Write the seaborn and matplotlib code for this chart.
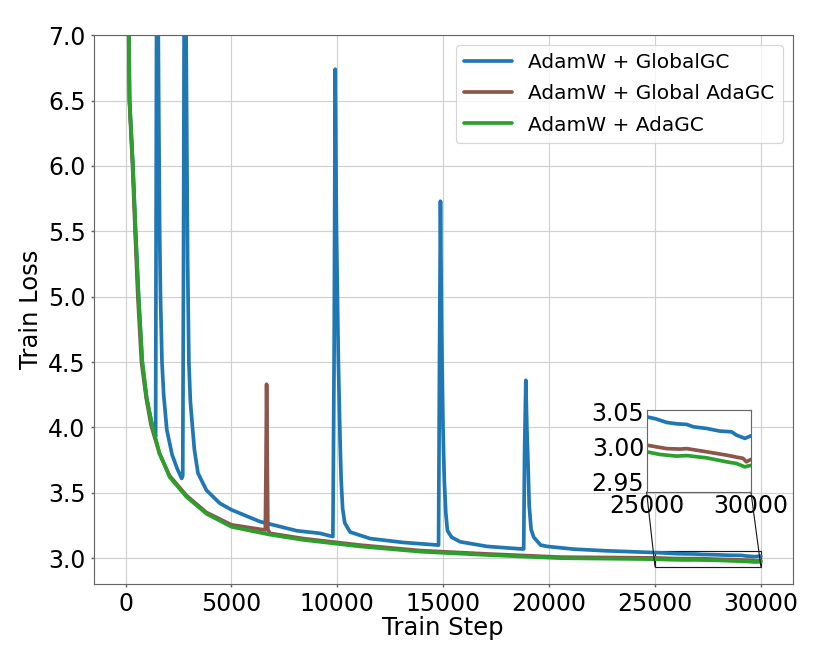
import numpy as np
import pandas as pd
import matplotlib
matplotlib.use("Agg")
import matplotlib.pyplot as plt
import seaborn as sns
from mpl_toolkits.axes_grid1.inset_locator import mark_inset

# %%
# (train step, train loss) points
globalgc = [
    (0, 10.8), (100, 7.6), (158, 7.0), (189, 6.5), (347, 6.0), (473, 5.5),
    (615, 5.0), (789, 4.5), (1000, 4.22), (1250, 4.02), (1420, 3.93),
    (1445, 5.8), (1470, 7.6), (1510, 8.0), (1560, 6.6), (1610, 5.5),
    (1650, 5.0), (1720, 4.5), (1800, 4.25), (1950, 3.98), (2200, 3.79),
    (2450, 3.68), (2650, 3.61), (2700, 3.63), (2735, 5.2), (2770, 7.4),
    (2820, 8.0), (2880, 6.5), (2930, 5.3), (2990, 4.5), (3060, 4.2),
    (3150, 4.02), (3250, 3.83), (3420, 3.65), (3817, 3.52), (4448, 3.42),
    (5000, 3.37), (6340, 3.28), (8076, 3.21), (9180, 3.19), (9790, 3.165),
    (9850, 4.6), (9900, 6.74), (9960, 5.5), (10050, 4.5), (10130, 3.9),
    (10180, 3.6), (10250, 3.38), (10350, 3.27), (10600, 3.20), (11546, 3.15),
    (13123, 3.12), (14780, 3.10), (14820, 4.4), (14870, 5.73), (14920, 4.8),
    (14990, 4.0), (15050, 3.6), (15120, 3.35), (15200, 3.21), (15400, 3.16),
    (15805, 3.125), (17068, 3.09), (18724, 3.07), (18800, 3.07), (18840, 3.8),
    (18900, 4.36), (18950, 4.0), (19010, 3.7), (19060, 3.4), (19150, 3.22),
    (19274, 3.16), (19600, 3.10), (19905, 3.09), (21166, 3.069), (22747, 3.056),
    (25000, 3.0428), (25480, 3.0395), (25960, 3.0347), (26440, 3.0327),
    (26920, 3.0318), (27240, 3.0284), (27880, 3.026), (28510, 3.0222),
    (29070, 3.0212), (29310, 3.0164), (29710, 3.0117), (30000, 3.0154),
]

global_adagc = [
    (0, 10.5), (100, 7.4), (150, 7.0), (180, 6.5), (330, 6.0), (450, 5.5),
    (580, 5.0), (750, 4.5), (980, 4.22), (1200, 4.02), (1600, 3.80),
    (2082, 3.63), (2871, 3.48), (3817, 3.35), (5000, 3.255), (6600, 3.215),
    (6630, 3.7), (6660, 4.33), (6690, 3.8), (6720, 3.22), (6814, 3.19),
    (8391, 3.15), (10000, 3.12), (11073, 3.10), (13912, 3.058), (17000, 3.033),
    (20537, 3.008), (25000, 3.002), (25960, 2.997), (26600, 2.9963),
    (26920, 2.997), (27880, 2.9924), (28830, 2.9876), (29310, 2.9847),
    (29620, 2.983), (29780, 2.978), (30000, 2.9814),
]

adagc = [
    (0, 10.8), (100, 7.6), (158, 7.0), (189, 6.5), (347, 6.0), (473, 5.5),
    (615, 5.0), (789, 4.5), (1000, 4.22), (1250, 4.02), (1609, 3.80),
    (2082, 3.62), (2871, 3.47), (3817, 3.34), (5000, 3.24), (6814, 3.18),
    (8391, 3.14), (10000, 3.11), (11073, 3.09), (13912, 3.05), (17000, 3.025),
    (20537, 3.0), (25000, 2.9924), (25640, 2.9886), (26440, 2.9862),
    (26920, 2.987), (27880, 2.9837), (28830, 2.978), (29310, 2.9756),
    (29710, 2.9707), (30000, 2.973),
]

series_names = ["AdamW + GlobalGC", "AdamW + Global AdaGC", "AdamW + AdaGC"]
series_colors = ["#1f77b4", "#8c564b", "#2ca02c"]

# %%
frames = []
for name, pts in zip(series_names, [globalgc, global_adagc, adagc]):
    d = pd.DataFrame(pts, columns=["step", "loss"])
    d["method"] = name
    frames.append(d)
df = pd.concat(frames, ignore_index=True)

# %%
sns.set_theme(style="whitegrid", rc={
    "axes.edgecolor": "#666666",
    "axes.linewidth": 1.0,
    "grid.color": "#d0d0d0",
    "grid.linewidth": 1.0,
    "xtick.bottom": True,
    "ytick.left": True,
    "xtick.color": "#666666",
    "ytick.color": "#666666",
    "xtick.labelcolor": "black",
    "ytick.labelcolor": "black",
    "xtick.major.size": 3,
    "ytick.major.size": 3,
    "text.color": "black",
    "axes.labelcolor": "black",
})
plt.rcParams["font.family"] = ["DejaVu Sans"]

fig = plt.figure(figsize=(10, 8), dpi=83)
ax = fig.add_axes([0.113, 0.120, 0.842, 0.827])

palette = dict(zip(series_names, series_colors))
sns.lineplot(data=df, x="step", y="loss", hue="method", palette=palette,
             estimator=None, sort=False, linewidth=3.2, ax=ax)

ax.set_xlim(-1500, 31500)
ax.set_ylim(2.8, 7.0)
ax.set_xticks(np.arange(0, 30001, 5000))
ax.set_yticks(np.arange(3.0, 7.01, 0.5))
ax.tick_params(labelsize=20.5, pad=4)
ax.set_xlabel("Train Step", fontsize=21, labelpad=0)
ax.set_ylabel("Train Loss", fontsize=21)

leg = ax.legend(loc="upper right", fontsize=17.5, frameon=True,
                labelspacing=0.6, handlelength=2.4)
for line in leg.get_lines():
    line.set_linewidth(3.2)

# %%
# zoomed view of the last 5000 steps
axins = fig.add_axes([0.779, 0.2595, 0.1257, 0.1235])
sns.lineplot(data=df, x="step", y="loss", hue="method", palette=palette,
             estimator=None, sort=False, linewidth=3.2, ax=axins, legend=False)
axins.set_xlim(25000, 30000)
axins.set_ylim(2.935, 3.053)
axins.set_xticks([25000, 30000])
axins.set_yticks([2.95, 3.00, 3.05])
axins.set_yticklabels(["2.95", "3.00", "3.05"])
axins.grid(False)
axins.set_xlabel("")
axins.set_ylabel("")
axins.tick_params(labelsize=20.5, length=0, pad=2)
for sp in axins.spines.values():
    sp.set_color("#666666")

mark_inset(ax, axins, loc1=3, loc2=4, fc="none", ec="0.1", lw=1)

fig.savefig("out.png", dpi=83)
